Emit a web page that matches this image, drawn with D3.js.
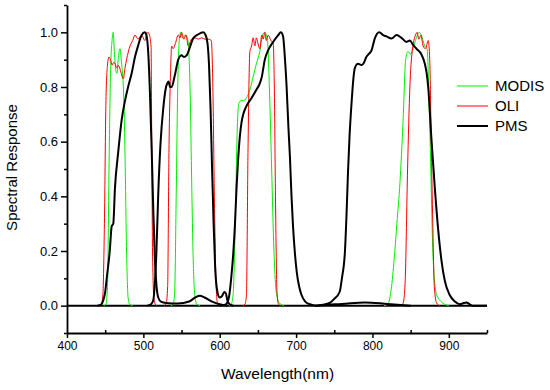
<!DOCTYPE html>
<html>
<head>
<meta charset="utf-8">
<script src="https://cdn.jsdelivr.net/npm/d3@7"></script>
<style>
  html, body { margin: 0; padding: 0; background: #fff; }
  svg { display: block; font-family: "Liberation Sans", Arial, sans-serif; }
</style>
</head>
<body>
<svg id="chart" width="550" height="390"></svg>
<script>
// spectral response curves, [wavelength nm, response]
const modisBlue = [[448,0],[451,0.005],[453,0.07],[455,0.5],[457,0.85],[459,0.97],[460.5,1.0],[462,0.93],[464,0.86],[465.5,0.85],[467,0.9],[469.5,0.94],[471,0.9],[473,0.84],[474.5,0.75],[476,0.55],[478,0.2],[480,0.03],[482,0.005],[486,0]];
const modisGreen = [[536,0],[539,0.005],[541,0.05],[543,0.4],[545,0.8],[547,0.97],[549,1.0],[551,0.98],[553,0.985],[555.5,0.99],[558,0.975],[560,0.9],[561.5,0.75],[563,0.5],[565,0.2],[567,0.05],[570,0.005],[574,0]];
const modisRed = [[612,0],[615,0.005],[617.5,0.04],[619.5,0.2],[621,0.4],[623,0.65],[625,0.74],[628,0.75],[631,0.75],[635,0.76],[639.5,0.79],[644,0.84],[648,0.885],[652.5,0.93],[656,0.99],[659,1.0],[662.5,0.97],[665,0.8],[668,0.5],[671,0.2],[674,0.05],[678,0.01],[684,0]];
const modisNir = [[815,0],[820,0.005],[825,0.07],[829,0.19],[832,0.3],[836,0.45],[840,0.67],[843.5,0.9],[846.5,0.93],[850,0.92],[853,0.94],[857.5,0.98],[861,1.0],[864,0.99],[868.5,0.95],[871.5,0.94],[875,0.66],[879.5,0.17],[884,0.04],[892,0.01],[900,0]];

const oliBlue = [[442,0],[445,0.005],[447,0.04],[449,0.3],[451,0.75],[453,0.88],[455,0.91],[457,0.9],[459,0.88],[461,0.89],[463,0.885],[465,0.87],[467,0.88],[469,0.87],[471,0.85],[473.7,0.83],[476,0.87],[478,0.9],[482.5,0.95],[486,0.97],[489,0.99],[493,0.975],[497.7,0.99],[502,0.97],[504,0.99],[506,1.0],[508,0.99],[510,0.95],[511,0.6],[512,0.2],[514,0.02],[517,0]];
const oliGreen = [[527,0],[530,0.01],[531.8,0.07],[533.5,0.56],[535.7,0.86],[537,0.95],[539,0.94],[542,0.96],[545.7,0.99],[548,0.98],[550,1.0],[553,0.975],[555.8,0.99],[558.8,0.95],[563,0.975],[567.5,0.98],[572,0.975],[576,0.98],[580.6,0.975],[585,0.975],[589,0.97],[591,0.8],[593,0.4],[595,0.1],[597,0.01],[600,0]];
const oliRed = [[630,0],[633,0.005],[635,0.04],[637,0.56],[639.5,0.93],[641.7,0.95],[643.8,0.98],[646,0.95],[648,0.98],[650,0.96],[652.6,0.94],[655,0.99],[657,0.975],[659,1.0],[661,0.97],[663.5,0.99],[667,0.97],[670,0.96],[671.5,0.8],[673,0.4],[675,0.05],[677,0.005],[680,0]];
const oliNir = [[836,0],[839,0.003],[841,0.02],[843,0.1],[846,0.5],[849,0.8],[852,0.93],[853.5,0.96],[856.4,0.99],[858.5,1.0],[860.7,0.975],[863.4,0.99],[866.4,0.95],[869.5,0.94],[873,0.97],[875,0.9],[877,0.6],[879,0.3],[881,0.07],[884,0.01],[888,0]];

const pmsBlue = [[440,0],[445,0.005],[447.5,0.02],[450,0.05],[452,0.1],[456,0.2],[458.5,0.29],[460.6,0.3],[462.8,0.43],[467,0.56],[471.6,0.68],[476,0.75],[480,0.8],[484.7,0.85],[489,0.91],[493,0.95],[497.8,0.99],[502,1.0],[504,0.99],[506.5,0.92],[508.6,0.78],[511,0.56],[513,0.35],[515,0.18],[517,0.08],[519.5,0.03],[523,0.015],[530,0.01],[545,0.008],[560,0.015],[568,0.03],[574,0.036],[580,0.03],[590,0.015],[600,0.005],[610,0]];
const pmsGreen = [[505,0],[510,0.005],[513,0.02],[515,0.08],[517,0.19],[519.5,0.41],[522.6,0.6],[526,0.72],[529,0.79],[531.5,0.815],[533,0.82],[535,0.8],[537,0.8],[541,0.84],[545.7,0.9],[550,0.916],[553,0.91],[556.7,0.916],[561,0.946],[565,0.977],[572,0.993],[578.4,1.0],[581.5,0.99],[584,0.96],[586,0.88],[588,0.72],[590,0.5],[592,0.3],[594,0.14],[597,0.05],[600,0.03],[603,0.035],[606,0.05],[608,0.045],[610,0.02],[613,0.005],[618,0]];
const pmsRed = [[600,0],[608,0.005],[612,0.03],[615,0.1],[617.7,0.19],[620,0.3],[622,0.43],[624,0.53],[626.4,0.62],[628.5,0.67],[630.8,0.7],[635,0.73],[641.7,0.76],[648,0.79],[652,0.81],[655,0.836],[659,0.9],[663.5,0.935],[670,0.965],[676.6,0.99],[680,1.0],[683,0.985],[685,0.92],[687.6,0.8],[690,0.65],[692,0.54],[694,0.4],[696,0.29],[698.5,0.19],[701,0.12],[704,0.07],[707,0.04],[712,0.015],[718,0.005],[727,0],[740,0.003],[760,0.006],[790,0.012],[820,0.006],[850,0]];
const pmsNir = [[725,0],[735,0.003],[744,0.01],[750,0.025],[757,0.05],[760,0.1],[764,0.2],[766,0.33],[768,0.49],[770,0.62],[772.6,0.74],[775,0.83],[777,0.87],[781,0.885],[785.7,0.88],[789,0.89],[792,0.91],[795,0.92],[798.8,0.934],[803,0.977],[808.8,1.0],[814,0.99],[818.5,0.985],[825,0.977],[831.5,0.99],[838,0.98],[844.6,0.965],[849,0.97],[853,0.955],[857.7,0.94],[864,0.92],[868.6,0.885],[871,0.85],[873,0.8],[877,0.62],[881.7,0.43],[886,0.28],[890.4,0.165],[894.8,0.09],[901,0.04],[908,0.015],[914,0.005],[918,0.008],[923,0.012],[927,0.006],[931,0],[950,0]];

const xMajorTicks = [400, 500, 600, 700, 800, 900];
const xMinorTicks = [450, 550, 650, 750, 850, 950];
const yMajorTicks = [0, 0.2, 0.4, 0.6, 0.8, 1.0];
const yMinorTicks = [-0.1, 0.1, 0.3, 0.5, 0.7, 0.9, 1.1];

const sensors = [
  {name: 'MODIS', color: '#00ee00', width: 1, bands: [modisBlue, modisGreen, modisRed, modisNir]},
  {name: 'OLI', color: '#ff0000', width: 1, bands: [oliBlue, oliGreen, oliRed, oliNir]},
  {name: 'PMS', color: '#000000', width: 2, bands: [pmsBlue, pmsGreen, pmsRed, pmsNir]}
];

const svg = d3.select('#chart');

const x = d3.scaleLinear().domain([400, 950]).range([67, 487]);
const y = d3.scaleLinear().domain([-0.1, 1.1]).range([333, 5]);

// zero baseline
svg.append('line')
  .attr('x1', x(400)).attr('x2', x(950))
  .attr('y1', y(0)).attr('y2', y(0))
  .attr('stroke', '#000')
  .attr('stroke-width', 2);

const line = d3.line()
  .x(d => x(d[0]))
  .y(d => y(d[1]))
  .curve(d3.curveMonotoneX);

sensors.forEach(s => {
  svg.append('g')
    .selectAll('path')
    .data(s.bands)
    .enter()
    .append('path')
    .attr('d', line)
    .attr('fill', 'none')
    .attr('stroke', s.color)
    .attr('stroke-width', s.width)
    .attr('stroke-linejoin', 'round');
});

// axes
const xAxis = svg.append('g')
  .attr('transform', `translate(0, ${y(-0.1)})`)
  .call(d3.axisBottom(x).tickValues(xMajorTicks).tickSizeInner(5).tickSizeOuter(0).tickPadding(3).tickFormat(d3.format('d')));
svg.append('g')
  .attr('transform', `translate(0, ${y(-0.1)})`)
  .call(d3.axisBottom(x).tickValues(xMinorTicks).tickSizeInner(-3).tickSizeOuter(0).tickFormat(''))
  .call(g => g.select('.domain').remove());

const yAxis = svg.append('g')
  .attr('transform', `translate(${x(400)}, 0)`)
  .call(d3.axisLeft(y).tickValues(yMajorTicks).tickSizeInner(6).tickSizeOuter(0).tickPadding(3).tickFormat(d3.format('.1f')));
svg.append('g')
  .attr('transform', `translate(${x(400)}, 0)`)
  .call(d3.axisLeft(y).tickValues(yMinorTicks).tickSizeInner(3).tickSizeOuter(0).tickFormat(''))
  .call(g => g.select('.domain').remove());

svg.selectAll('.domain').attr('stroke-width', 1.8);
svg.selectAll('.tick line').attr('stroke-width', 1.5);
xAxis.selectAll('text').attr('font-size', 12).attr('font-family', '"Liberation Sans", Arial, sans-serif').attr('fill', '#000');
yAxis.selectAll('text').attr('font-size', 13).attr('font-family', '"Liberation Sans", Arial, sans-serif').attr('fill', '#000');

// axis titles
svg.append('text')
  .attr('x', 277.5)
  .attr('y', 379)
  .attr('text-anchor', 'middle')
  .attr('font-size', 15.5)
  .text('Wavelength(nm)');

svg.append('text')
  .attr('transform', 'translate(17, 167.5) rotate(-90)')
  .attr('text-anchor', 'middle')
  .attr('font-size', 15)
  .text('Spectral Response');

// legend
const legendY = [86, 106, 126];
const legend = svg.append('g')
  .selectAll('g')
  .data(sensors)
  .enter()
  .append('g')
  .attr('transform', (d, i) => `translate(457, ${legendY[i]})`);

legend.append('line')
  .attr('x1', 0).attr('x2', 31)
  .attr('stroke', d => d.color)
  .attr('stroke-width', d => d.width);

legend.append('text')
  .attr('x', 38)
  .attr('y', 5)
  .attr('font-size', 15)
  .text(d => d.name);
</script>
</body>
</html>
